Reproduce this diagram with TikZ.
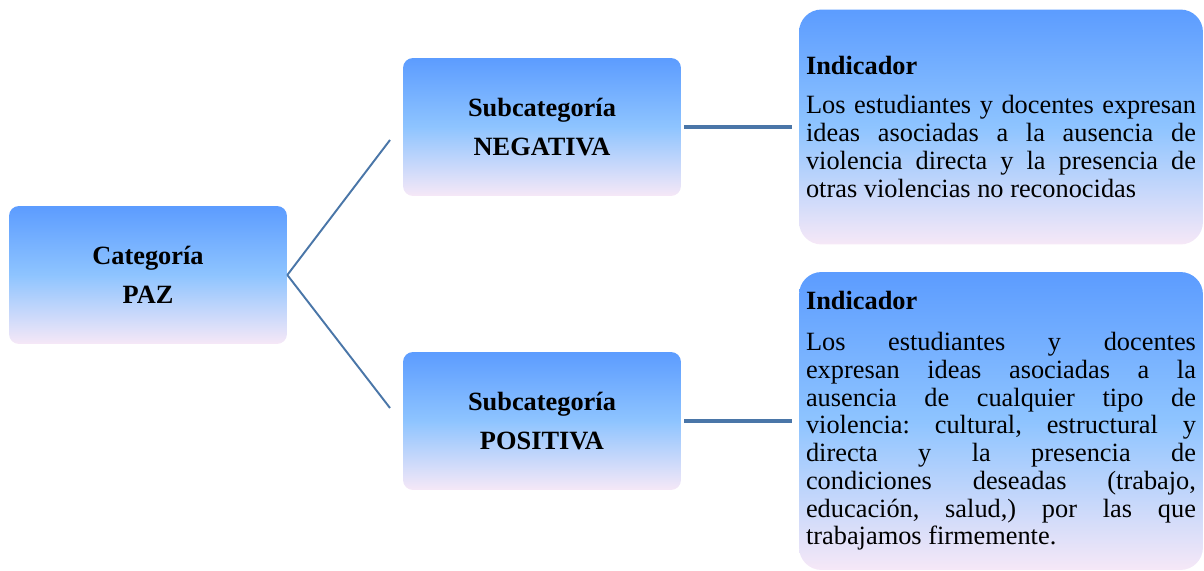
\documentclass[tikz,border=0pt]{standalone}
\usepackage{fontspec}
\setmainfont{Liberation Serif}
\frenchspacing
\usepackage{tikz}
\usetikzlibrary{positioning}
\definecolor{boxtop}{RGB}{92,156,255}
\definecolor{boxmid}{RGB}{142,196,255}
\definecolor{boxbottom}{RGB}{246,232,247}
\definecolor{linkblue}{RGB}{74,118,168}
\tikzstyle{catbox} = [rectangle, rounded corners=0.2cm, minimum width=5.56cm, minimum height=2.76cm, top color=boxtop, bottom color=boxbottom, middle color=boxmid, align=center, font=\bfseries\fontsize{15}{22}\selectfont]
\tikzstyle{indbox} = [rectangle, rounded corners=0.45cm, text width=7.8cm, inner sep=0.14cm, align=justify, top color=boxtop, bottom color=boxbottom, middle color=boxmid, font=\fontsize{15}{15.8}\selectfont]
\tikzstyle{thinlink} = [draw=linkblue, line width=1.1pt]
\tikzstyle{thicklink} = [draw=linkblue, line width=2.6pt, shorten <=0.06cm, shorten >=0.14cm]

\begin{document}
\begin{tikzpicture}[x=0.02cm, y=-0.02cm]
        \useasboundingbox (0,0) rectangle (1204,571);
        \node[catbox] at (148, 275) (cat) {Categoría\\PAZ};
        \node[catbox] at (542, 127) (subneg) {Subcategoría\\NEGATIVA};
        \node[catbox] at (542, 421) (subpos) {Subcategoría\\POSITIVA};

        \node[indbox, minimum height=4.7cm] at (1001, 127) (indneg) {\textbf{Indicador}\\[0.22cm]Los estudiantes y docentes expresan\linebreak ideas asociadas a la ausencia de\linebreak violencia directa y la presencia de\linebreak otras violencias no reconocidas};
        \node[indbox, minimum height=5.96cm] at (1001, 421) (indpos) {\textbf{Indicador}\\[0.26cm]Los estudiantes y docentes\linebreak expresan ideas asociadas a la\linebreak ausencia de cualquier tipo de\linebreak violencia: cultural, estructural y\linebreak directa y la presencia de\linebreak condiciones deseadas (trabajo,\linebreak educación, salud,) por las que\linebreak trabajamos firmemente.};

        \coordinate (negend) at (390, 140);
        \coordinate (posend) at (390, 408);

        \draw[thinlink] (cat.east) -- (negend);
        \draw[thinlink] (cat.east) -- (posend);
        \draw[thicklink] (subneg) -- (indneg);
        \draw[thicklink] (subpos) -- (indpos);
    \end{tikzpicture}
\end{document}
